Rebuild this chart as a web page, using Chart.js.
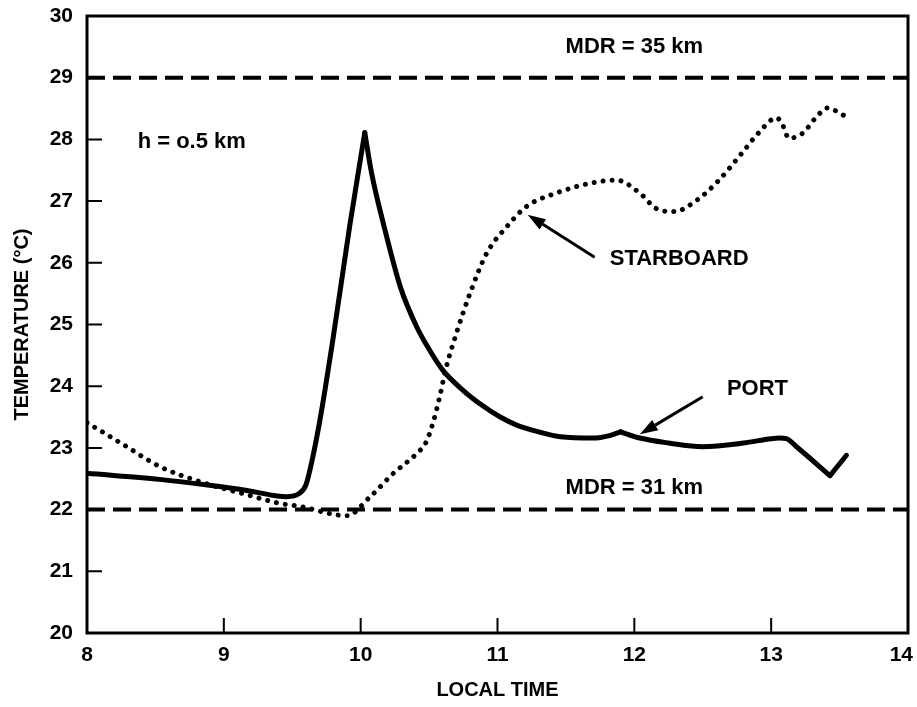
<!DOCTYPE html>
<html>
<head>
<meta charset="utf-8">
<script src="https://cdn.jsdelivr.net/npm/chart.js@4.4.1/dist/chart.umd.min.js"></script>
<style>
  html, body { margin: 0; padding: 0; background: #fff; }
  #c { display: block; }
</style>
</head>
<body>
<canvas id="c" width="917" height="707"></canvas>
<script>
// ---- Data ----
const portTime = [8.00, 8.53, 8.88, 9.17, 9.39, 9.46, 9.55, 9.60, 9.65, 9.71, 9.80, 9.92, 10.03, 10.08, 10.17, 10.29, 10.41, 10.50, 10.60, 10.75, 10.90, 11.02, 11.14, 11.30, 11.46, 11.70, 11.82, 11.90, 12.04, 12.25, 12.50, 12.80, 13.00, 13.06, 13.11, 13.20, 13.43, 13.55];
const portTemp = [22.59, 22.49, 22.40, 22.31, 22.22, 22.21, 22.26, 22.40, 22.85, 23.55, 24.80, 26.60, 28.11, 27.45, 26.60, 25.61, 24.96, 24.60, 24.26, 23.93, 23.67, 23.50, 23.37, 23.26, 23.18, 23.16, 23.20, 23.26, 23.16, 23.08, 23.02, 23.08, 23.15, 23.16, 23.15, 22.99, 22.55, 22.88];
const portCusps = [10.03, 11.90, 13.43];   // sharp corners of the PORT trace

const starTime = [8.00, 8.29, 8.53, 8.83, 9.17, 9.41, 9.56, 9.90, 10.07, 10.24, 10.41, 10.48, 10.53, 10.58, 10.62, 10.70, 10.80, 10.92, 11.07, 11.21, 11.43, 11.68, 11.87, 12.04, 12.16, 12.29, 12.46, 12.61, 12.78, 12.91, 13.04, 13.08, 13.13, 13.23, 13.33, 13.41, 13.53];
const starTemp = [23.41, 23.02, 22.70, 22.45, 22.24, 22.10, 22.05, 21.90, 22.21, 22.59, 22.91, 23.10, 23.42, 23.85, 24.26, 24.86, 25.51, 26.15, 26.59, 26.91, 27.13, 27.29, 27.34, 27.13, 26.88, 26.83, 27.02, 27.32, 27.76, 28.11, 28.35, 28.25, 28.02, 28.10, 28.36, 28.51, 28.39];

const mdrLevels = [29, 22];            // dashed reference lines (°C)
const mdrLabels = ['MDR = 35 km', 'MDR = 31 km'];
const xTicks = [8, 9, 10, 11, 12, 13, 14];
const yTicks = [20, 21, 22, 23, 24, 25, 26, 27, 28, 29, 30];
const xTitle = 'LOCAL TIME';
const yTitle = 'TEMPERATURE (°C)';

const FONT = '"Liberation Sans", Arial, Helvetica, sans-serif';

function pts(xs, ys) { return xs.map((x, i) => ({ x: x, y: ys[i] })); }

// split a trace at its cusps so each piece is smoothed separately
function splitAt(xs, ys, cusps) {
  const pieces = [];
  let cur = [];
  xs.forEach((x, i) => {
    cur.push({ x: x, y: ys[i] });
    if (cusps.includes(x)) { pieces.push(cur); cur = [{ x: x, y: ys[i] }]; }
  });
  if (cur.length > 1) pieces.push(cur);
  return pieces;
}

// annotations (in data units)
const notes = [
  { text: mdrLabels[0], x: 12.0, y: 29.5, align: 'center' },
  { text: mdrLabels[1], x: 12.0, y: 22.35, align: 'center' },
  { text: 'h = o.5 km', x: 8.37, y: 27.96, align: 'left' },
  { text: 'STARBOARD', x: 11.82, y: 26.07, align: 'left' },
  { text: 'PORT', x: 12.90, y: 23.95, align: 'center' }
];
const arrows = [
  { from: [11.71, 26.09], to: [11.22, 26.78] },
  { from: [12.50, 23.83], to: [12.04, 23.22] }
];

const framePlugin = {
  id: 'frame',
  afterDatasetsDraw(chart) {
    const ctx = chart.ctx;
    const a = chart.chartArea;
    const xs = chart.scales.x, ys = chart.scales.y;
    ctx.save();
    ctx.strokeStyle = '#000';
    ctx.lineWidth = 3;
    ctx.strokeRect(a.left, a.top, a.right - a.left, a.bottom - a.top);
    // inner tick marks
    ctx.lineWidth = 2;
    ctx.beginPath();
    xTicks.slice(1, -1).forEach(v => {
      const px = xs.getPixelForValue(v);
      ctx.moveTo(px, a.bottom); ctx.lineTo(px, a.bottom - 15);
    });
    yTicks.slice(1, -1).forEach(v => {
      const py = ys.getPixelForValue(v);
      ctx.moveTo(a.left, py); ctx.lineTo(a.left + 15, py);
    });
    ctx.stroke();
    // x tick labels (kept inside the canvas like the reference)
    ctx.fillStyle = '#000';
    ctx.font = 'bold 21px ' + FONT;
    ctx.textBaseline = 'middle';
    ctx.textAlign = 'center';
    xs.ticks.forEach(t => {
      const label = String(t.value);
      const w = ctx.measureText(label).width;
      let px = xs.getPixelForValue(t.value);
      px = Math.min(px, chart.width - 4 - w / 2);
      ctx.fillText(label, px, a.bottom + 22);
    });
    // annotations
    ctx.font = 'bold 22px ' + FONT;
    notes.forEach(n => {
      ctx.textAlign = n.align;
      ctx.fillText(n.text, xs.getPixelForValue(n.x), ys.getPixelForValue(n.y));
    });
    // arrows
    arrows.forEach(ar => {
      const x0 = xs.getPixelForValue(ar.from[0]), y0 = ys.getPixelForValue(ar.from[1]);
      const x1 = xs.getPixelForValue(ar.to[0]), y1 = ys.getPixelForValue(ar.to[1]);
      const ang = Math.atan2(y1 - y0, x1 - x0);
      const L = 18, W = 6;
      const bx = x1 - L * Math.cos(ang), by = y1 - L * Math.sin(ang);
      ctx.lineWidth = 3;
      ctx.beginPath();
      ctx.moveTo(x0, y0); ctx.lineTo(bx, by);
      ctx.stroke();
      ctx.beginPath();
      ctx.moveTo(x1, y1);
      ctx.lineTo(bx + W * Math.sin(ang), by - W * Math.cos(ang));
      ctx.lineTo(bx - W * Math.sin(ang), by + W * Math.cos(ang));
      ctx.closePath();
      ctx.fill();
    });
    ctx.restore();
  }
};

const datasets = [];
splitAt(portTime, portTemp, portCusps).forEach(piece => {
  datasets.push({
    label: 'PORT',
    data: piece,
    borderColor: '#000',
    borderWidth: 5,
    pointRadius: 0,
    cubicInterpolationMode: 'monotone',
    borderJoinStyle: 'round',
    borderCapStyle: 'round',
    fill: false
  });
});
datasets.push({
  label: 'STARBOARD',
  data: pts(starTime, starTemp),
  borderColor: '#000',
  borderWidth: 5,
  borderDash: [0.01, 9],
  borderCapStyle: 'round',
  pointRadius: 0,
  cubicInterpolationMode: 'monotone',
  fill: false
});
mdrLevels.forEach((lv, i) => {
  datasets.push({
    label: mdrLabels[i],
    data: [{ x: xTicks[0], y: lv }, { x: xTicks[xTicks.length - 1], y: lv }],
    borderColor: '#000',
    borderWidth: 4,
    borderDash: [18, 8],
    pointRadius: 0,
    fill: false
  });
});

new Chart(document.getElementById('c'), {
  type: 'line',
  data: { datasets: datasets },
  plugins: [framePlugin],
  options: {
    responsive: false,
    animation: false,
    layout: { padding: { top: 16, right: 9, left: 0, bottom: 0 } },
    plugins: { legend: { display: false }, tooltip: { enabled: false } },
    scales: {
      x: {
        type: 'linear',
        min: xTicks[0],
        max: xTicks[xTicks.length - 1],
        ticks: { display: false, stepSize: 1 },
        grid: { display: false, drawTicks: false },
        border: { display: false },
        title: { display: true, text: xTitle, color: '#000', font: { family: FONT, size: 20, weight: 'bold' }, padding: { top: 5, bottom: 5 } },
        afterFit(s) { s.height = 74; s.paddingLeft = 0; s.paddingRight = 0; }
      },
      y: {
        type: 'linear',
        min: yTicks[0],
        max: yTicks[yTicks.length - 1],
        ticks: { stepSize: 1, padding: 14, color: '#000', font: { family: FONT, size: 21, weight: 'bold' } },
        grid: { display: false, drawTicks: false },
        border: { display: false },
        title: { display: true, text: yTitle, color: '#000', font: { family: FONT, size: 20, weight: 'bold' }, padding: { top: 10, bottom: 10 } },
        afterFit(s) { s.width = 87; s.paddingTop = 0; s.paddingBottom = 0; }
      }
    }
  }
});
</script>
</body>
</html>
